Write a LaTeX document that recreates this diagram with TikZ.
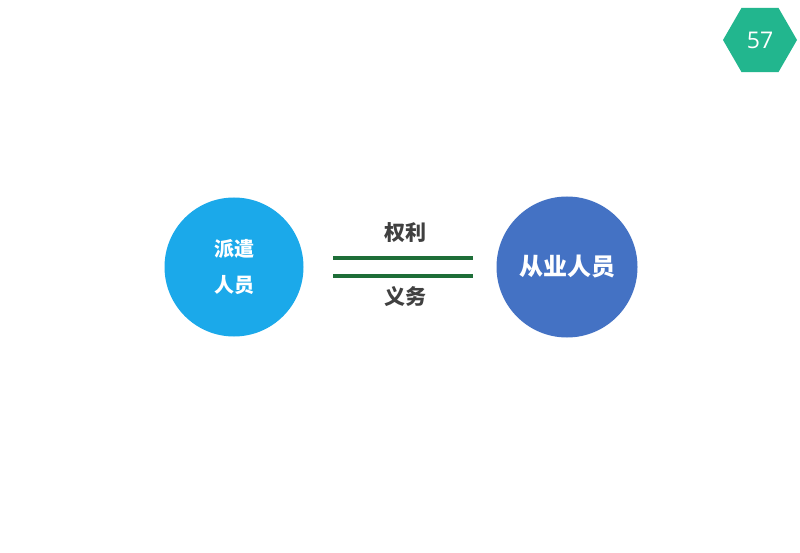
\documentclass[tikz,border=0pt]{standalone}
\usepackage{fontspec}
\usetikzlibrary{shapes.geometric}
\newfontfamily\cjk{Noto Sans CJK SC}
\setmainfont{Open Sans}
\definecolor{lblue}{HTML}{1BA9EA}
\definecolor{dblue}{HTML}{4472C4}
\definecolor{lgreen}{HTML}{1E6E38}
\definecolor{hexc}{HTML}{22B68E}
\definecolor{txtg}{HTML}{404040}
\tikzset{
  circ/.style={circle, fill=#1, draw=none, inner sep=0pt, text=white, font=\cjk\bfseries},
  lab/.style={text=txtg, font=\cjk\bfseries\fontsize{21}{24}\selectfont, inner sep=0pt},
  rel/.style={draw=lgreen, line width=4pt}
}
\begin{document}
\begin{tikzpicture}[x=1pt,y=-1pt]
\useasboundingbox (0,0) rectangle (800,553);
\fill[white] (0,0) rectangle (800,553);
\node[regular polygon, regular polygon sides=6, minimum size=74pt, fill=hexc, inner sep=0pt,
  text=white, font=\fontsize{23}{26}\selectfont] (hex) at (760,40) {57};
\node[circ=lblue, minimum size=139pt, align=center, font=\cjk\bfseries\fontsize{20}{36}\selectfont] (left) at (234,267) {派遣\\人员};
\node[circ=dblue, minimum size=141pt, font=\cjk\bfseries\fontsize{24}{28}\selectfont] (right) at (567,267) {从业人员};
\coordinate (a1) at (333,258);
\coordinate (b1) at (473,258);
\coordinate (a2) at (333,276);
\coordinate (b2) at (473,276);
\draw[rel] (a1) -- (b1);
\draw[rel] (a2) -- (b2);
\node[lab] (quanli) at (405,233) {权利};
\node[lab] (yiwu) at (405,297) {义务};
\end{tikzpicture}
\end{document}
